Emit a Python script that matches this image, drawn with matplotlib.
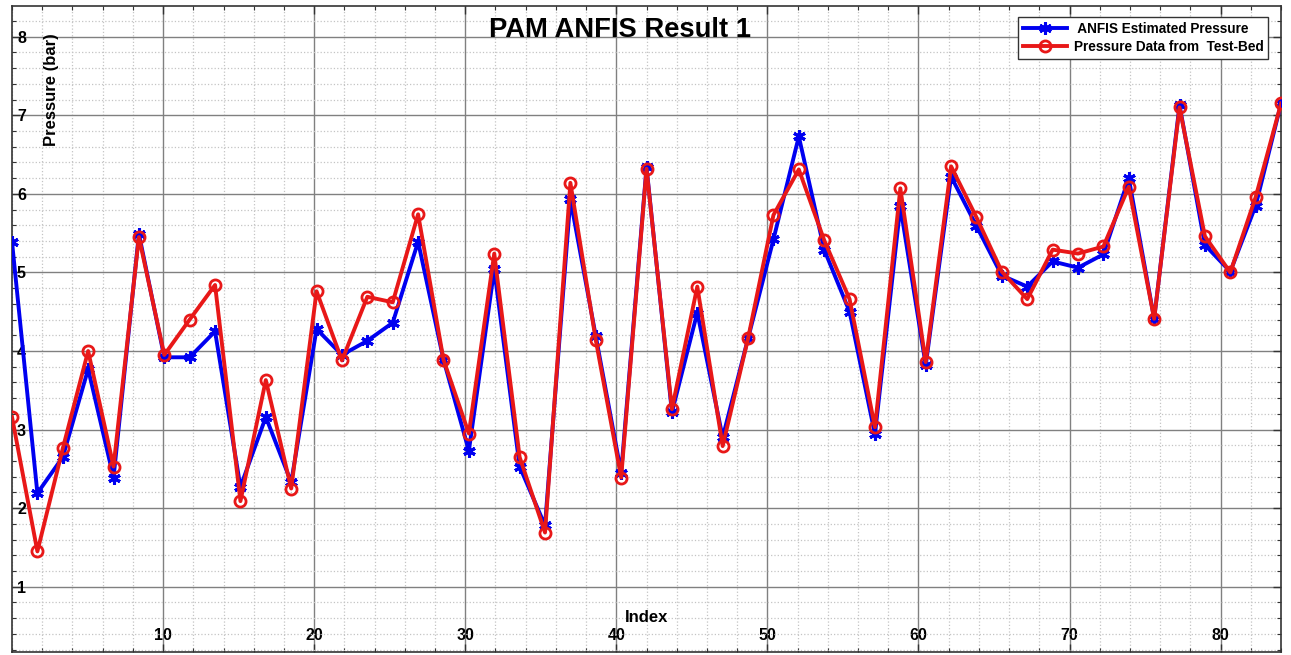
import matplotlib
matplotlib.use("Agg")
import matplotlib.pyplot as plt
from matplotlib.ticker import MultipleLocator

plt.rcParams['font.family'] = ['Liberation Sans', 'DejaVu Sans']

# index positions of the samples (as drawn on the axis)
index = [0.00, 1.68, 3.36, 5.04, 6.72, 8.40, 10.08, 11.76, 13.44, 15.12,
         16.80, 18.48, 20.16, 21.84, 23.52, 25.20, 26.88, 28.56, 30.24, 31.92,
         33.60, 35.28, 36.96, 38.64, 40.32, 42.00, 43.68, 45.36, 47.04, 48.72,
         50.40, 52.08, 53.76, 55.44, 57.12, 58.80, 60.48, 62.16, 63.84, 65.52,
         67.20, 68.88, 70.56, 72.24, 73.92, 75.60, 77.28, 78.96, 80.64, 82.32,
         84.00]

anfis = [5.39, 2.19, 2.65, 3.77, 2.39, 5.49, 3.92, 3.92, 4.25, 2.27,
         3.16, 2.33, 4.28, 3.95, 4.13, 4.36, 5.39, 3.89, 2.73, 5.04,
         2.53, 1.78, 5.93, 4.19, 2.45, 6.34, 3.22, 4.49, 2.90, 4.16,
         5.42, 6.73, 5.29, 4.50, 2.94, 5.84, 3.82, 6.22, 5.59, 4.96,
         4.82, 5.14, 5.06, 5.23, 6.20, 4.41, 7.13, 5.35, 5.01, 5.85,
         7.15]

testbed = [3.16, 1.45, 2.76, 4.00, 2.53, 5.45, 3.95, 4.40, 4.84, 2.09,
           3.63, 2.25, 4.76, 3.88, 4.69, 4.62, 5.74, 3.89, 2.95, 5.24,
           2.65, 1.69, 6.14, 4.14, 2.39, 6.32, 3.26, 4.82, 2.79, 4.16,
           5.73, 6.31, 5.41, 4.66, 3.03, 6.07, 3.86, 6.35, 5.70, 5.01,
           4.66, 5.29, 5.24, 5.33, 6.09, 4.41, 7.10, 5.46, 5.00, 5.96,
           7.15]

fig = plt.figure(figsize=(12.91, 6.55), dpi=100)
ax = fig.add_axes([0.0093, 0.0046, 0.9830, 0.9862])

# MATLAB-style asterisk marker
ax.plot(index, anfis, '-', marker=(6, 2, 0), color='#0000f0', lw=2.8,
        ms=9, mew=2.2, label=' ANFIS Estimated Pressure', zorder=3)
ax.plot(index, testbed, '-o', color='#e81818', lw=2.8, ms=8, mew=2.0,
        mfc='none', label='Pressure Data from  Test-Bed', zorder=4)

ax.set_xlim(0, 84)
ax.set_ylim(0.17, 8.39)
ax.xaxis.set_major_locator(MultipleLocator(10))
ax.xaxis.set_minor_locator(MultipleLocator(2))
ax.yaxis.set_major_locator(MultipleLocator(1))
ax.yaxis.set_minor_locator(MultipleLocator(0.2))

ax.grid(which='major', color='#808080', lw=1.0, ls='-')
ax.grid(which='minor', color='#c4c4c4', lw=0.9, ls=':')
ax.set_axisbelow(True)

ax.tick_params(which='both', direction='in', top=True, right=True,
               color='#333333')
ax.tick_params(which='major', length=6, width=1)
ax.tick_params(which='minor', length=3, width=0.8)
ax.tick_params(axis='x', pad=-17, labelsize=11.5)
ax.tick_params(axis='y', pad=-10, labelsize=11.5)
ax.set_xticks([10, 20, 30, 40, 50, 60, 70, 80])
ax.set_yticks([1, 2, 3, 4, 5, 6, 7, 8])
for lab in ax.get_xticklabels() + ax.get_yticklabels():
    lab.set_fontweight('bold')
for s in ax.spines.values():
    s.set_color('#333333')
    s.set_linewidth(1.2)

ax.text(0.479, 0.963, 'PAM ANFIS Result 1', transform=ax.transAxes,
        ha='center', va='center', fontsize=19.7, fontweight='bold')
ax.text(0.5004, 0.054, 'Index', transform=ax.transAxes,
        ha='center', va='center', fontsize=12, fontweight='bold')
ax.text(0.0315, 0.87, 'Pressure (bar)', transform=ax.transAxes, rotation=90,
        ha='center', va='center', fontsize=12, fontweight='bold')

leg = ax.legend(loc='upper right', bbox_to_anchor=(0.9898, 0.983),
                borderaxespad=0, prop={'weight': 'bold', 'size': 9.8},
                fancybox=False, framealpha=1, edgecolor='#333333',
                handlelength=3.2, handletextpad=0.5, borderpad=0.35,
                labelspacing=0.3)
leg.get_frame().set_linewidth(1.0)

fig.savefig('out.png', dpi=100)
